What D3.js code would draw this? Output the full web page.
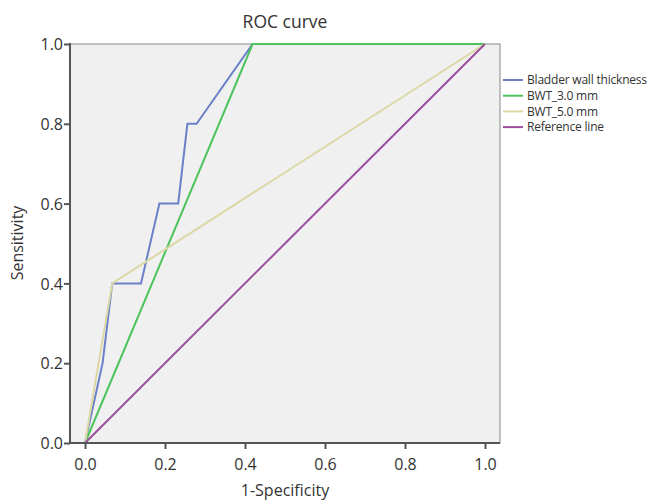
<!DOCTYPE html>
<html>
<head>
<meta charset="utf-8">
<script src="https://cdn.jsdelivr.net/npm/d3@7"></script>
<style>
  body { margin: 0; background: #fff; }
  text { font-family: "Open Sans", sans-serif; fill: #333; }
</style>
</head>
<body>
<div id="chart"></div>
<script>
// ROC points: [1-specificity, sensitivity]
var bladderWall = [[0, 0], [0.044, 0.2], [0.068, 0.4], [0.14, 0.4], [0.186, 0.6], [0.233, 0.6],
                   [0.256, 0.8], [0.279, 0.8], [0.419, 1], [1, 1]];
var bwt30 = [[0, 0], [0.419, 1], [1, 1]];
var bwt50 = [[0, 0], [0.068, 0.4], [1, 1]];
var refLine = [[0, 0], [1, 1]];

var seriesNames = ['Bladder wall thickness', 'BWT_3.0 mm', 'BWT_5.0 mm', 'Reference line'];
var seriesColors = ['#6a80c8', '#4cc35c', '#dcd8a6', '#9a4f9e'];
var tickValues = [0, 0.2, 0.4, 0.6, 0.8, 1.0];

var width = 647, height = 501;
var svg = d3.select('#chart').append('svg')
    .attr('width', width)
    .attr('height', height);

var x = d3.scaleLinear().domain([0, 1]).range([85, 485]);
var y = d3.scaleLinear().domain([0, 1]).range([443, 44]);
var left = 70, right = 500;

// plot background + frame
svg.append('rect')
    .attr('x', left).attr('y', y(1))
    .attr('width', right - left).attr('height', y(0) - y(1))
    .attr('fill', '#f0f0f0')
    .attr('stroke', '#888')
    .attr('stroke-width', 1);

var line = d3.line()
    .x(function(d) { return x(d[0]); })
    .y(function(d) { return y(d[1]); });

var allSeries = [bladderWall, bwt30, bwt50, refLine];
svg.selectAll('path.roc')
    .data(allSeries)
    .enter()
    .append('path')
    .attr('class', 'roc')
    .attr('d', line)
    .attr('fill', 'none')
    .attr('stroke', function(d, i) { return seriesColors[i]; })
    .attr('stroke-width', 2);

// axes
var xAxis = svg.append('g')
    .attr('transform', 'translate(0,' + y(0) + ')')
    .call(d3.axisBottom(x).tickValues(tickValues).tickFormat(d3.format('.1f')).tickSize(6).tickSizeOuter(0));
var yAxis = svg.append('g')
    .attr('transform', 'translate(' + left + ',0)')
    .call(d3.axisLeft(y).tickValues(tickValues).tickFormat(d3.format('.1f')).tickSize(6).tickSizeOuter(0));

[xAxis, yAxis].forEach(function(g) {
  g.select('.domain').remove();
  g.selectAll('.tick line').attr('stroke', '#555').attr('stroke-width', 2);
  g.selectAll('.tick text').attr('font-size', 16).style('font-family', '"Open Sans", sans-serif').attr('fill', '#333');
});
xAxis.selectAll('.tick text').attr('dy', '1.1em');
yAxis.selectAll('.tick text').attr('x', -7).attr('dy', '0.35em');

// thick axis lines on left and bottom
svg.append('line')
    .attr('x1', left).attr('x2', right).attr('y1', y(0)).attr('y2', y(0))
    .attr('stroke', '#555').attr('stroke-width', 2);
svg.append('line')
    .attr('x1', left).attr('x2', left).attr('y1', y(1) - 1).attr('y2', y(0) + 1)
    .attr('stroke', '#555').attr('stroke-width', 2);

// titles
svg.append('text')
    .attr('x', 285).attr('y', 28)
    .attr('text-anchor', 'middle')
    .attr('font-size', 17.5)
    .text('ROC curve');
svg.append('text')
    .attr('x', 285).attr('y', 496)
    .attr('text-anchor', 'middle')
    .attr('font-size', 16)
    .text('1-Specificity');
svg.append('text')
    .attr('transform', 'translate(23,243) rotate(-90)')
    .attr('text-anchor', 'middle')
    .attr('font-size', 16)
    .text('Sensitivity');

// legend
var legend = svg.selectAll('g.legend')
    .data(seriesNames)
    .enter()
    .append('g')
    .attr('class', 'legend')
    .attr('transform', function(d, i) { return 'translate(503,' + (80 + i * 15.7) + ')'; });
legend.append('line')
    .attr('x1', 0).attr('x2', 20)
    .attr('stroke', function(d, i) { return seriesColors[i]; })
    .attr('stroke-width', 2);
legend.append('text')
    .attr('x', 24).attr('dy', '0.35em')
    .attr('font-size', 12)
    .style('letter-spacing', '-0.2px')
    .text(function(d) { return d; });
</script>
</body>
</html>
